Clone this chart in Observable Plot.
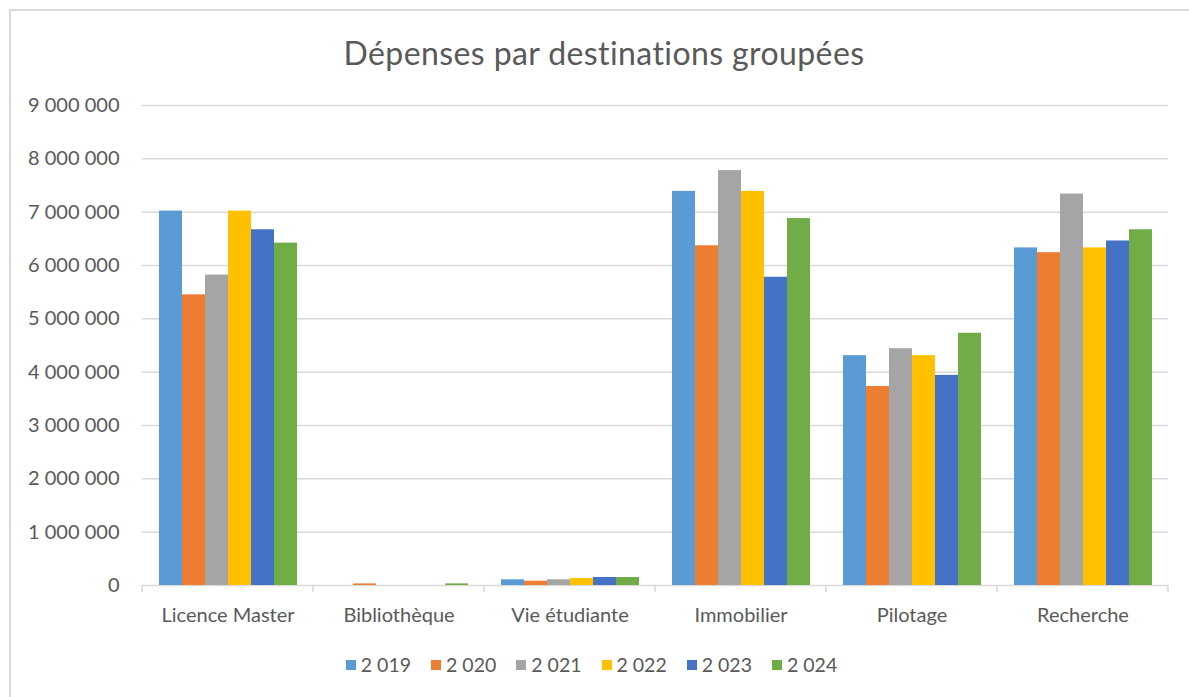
<!DOCTYPE html>
<html>
<head>
<meta charset="utf-8">
<script src="https://cdn.jsdelivr.net/npm/d3@7"></script>
<script src="https://cdn.jsdelivr.net/npm/@observablehq/plot@0.6"></script>
<style>
  html, body { margin: 0; padding: 0; background: #fff; }
  body { width: 1189px; height: 697px; position: relative; overflow: hidden; font-family: Lato, "Open Sans", sans-serif; color: #595959; }
  #frame { position: absolute; left: 9px; top: 9px; width: 1300px; height: 800px; border-top: 2px solid #d9d9d9; border-left: 2px solid #d9d9d9; }
  #title { position: absolute; left: 0; width: 1208px; top: 33px; text-align: center; font-size: 32px; letter-spacing: 0.4px; color: #595959; }
  #chart { position: absolute; left: 0; top: 80px; }
  #legend { position: absolute; left: 0; width: 1183px; top: 653px; display: flex; justify-content: center; font-size: 19.5px; color: #595959; }
  .item { display: flex; align-items: center; margin: 0 10px; }
  .sw { width: 10px; height: 10px; margin-right: 5px; }
</style>
</head>
<body>
<div id="frame"></div>
<div id="title">Dépenses par destinations groupées</div>
<div id="chart"></div>
<div id="legend"></div>
<script>
const categories = ["Licence Master", "Bibliothèque", "Vie étudiante", "Immobilier", "Pilotage", "Recherche"];
const years = ["2 019", "2 020", "2 021", "2 022", "2 023", "2 024"];
const colors = ["#5B9BD5", "#ED7D31", "#A5A5A5", "#FFC000", "#4472C4", "#70AD47"];
// values per year, in order of categories
const v2019 = [7020000, 0, 107000, 7390000, 4310000, 6330000];
const v2020 = [5450000, 30000, 80000, 6370000, 3730000, 6240000];
const v2021 = [5820000, 0, 107000, 7780000, 4440000, 7340000];
const v2022 = [7020000, 0, 130000, 7390000, 4310000, 6330000];
const v2023 = [6670000, 0, 150000, 5780000, 3940000, 6460000];
const v2024 = [6420000, 30000, 150000, 6880000, 4730000, 6670000];
const yTicks = [0, 1000000, 2000000, 3000000, 4000000, 5000000, 6000000, 7000000, 8000000, 9000000];

const series = [v2019, v2020, v2021, v2022, v2023, v2024];
const data = [];
categories.forEach((c, i) => years.forEach((y, j) => data.push({category: c, year: y, value: series[j][i]})));

const locale = d3.formatLocale({decimal: ",", thousands: " ", grouping: [3], currency: ["", ""]});
const fmt = locale.format(",");

const plot = Plot.plot({
  width: 1189,
  height: 560,
  marginTop: 25,
  marginBottom: 55,
  marginLeft: 142,
  marginRight: 21,
  style: {fontFamily: "Lato, 'Open Sans', sans-serif", fontSize: "20px", color: "#595959", background: "transparent"},
  fx: {domain: categories, padding: 0, label: null, axis: "bottom", tickSize: 0, tickPadding: 22},
  x: {domain: years, paddingInner: 0, paddingOuter: 0.62, axis: null},
  y: {domain: [0, 9000000], ticks: yTicks, tickFormat: fmt, tickSize: 0, tickPadding: 23, label: null},
  color: {domain: years, range: colors},
  marks: [
    Plot.ruleY(yTicks.filter(d => d > 0), {stroke: "#d9d9d9", strokeWidth: 1.5}),
    Plot.ruleY([0], {stroke: "#d9d9d9", strokeWidth: 1.5}),
    Plot.barY(data, {fx: "category", x: "year", y: "value", fill: "year"})
  ]
});
document.getElementById("chart").appendChild(plot);

// category separator ticks derived from the fx scale
const fx = plot.scale("fx");
const y = plot.scale("y");
const y0 = y.apply(0);
const bounds = categories.map(c => fx.apply(c));
bounds.push(fx.apply(categories[categories.length - 1]) + fx.bandwidth);
const svg = d3.select(plot.tagName.toLowerCase() === "svg" ? plot : plot.querySelector("svg"));
svg.append("g").selectAll("line").data(bounds).join("line")
  .attr("x1", d => d).attr("x2", d => d)
  .attr("y1", y0).attr("y2", y0 + 7)
  .attr("stroke", "#d9d9d9").attr("stroke-width", 1.5);

const legend = document.getElementById("legend");
years.forEach((yr, i) => {
  const it = document.createElement("div"); it.className = "item";
  const sw = document.createElement("div"); sw.className = "sw"; sw.style.background = colors[i];
  const tx = document.createElement("span"); tx.textContent = yr;
  it.appendChild(sw); it.appendChild(tx); legend.appendChild(it);
});
</script>
</body>
</html>
